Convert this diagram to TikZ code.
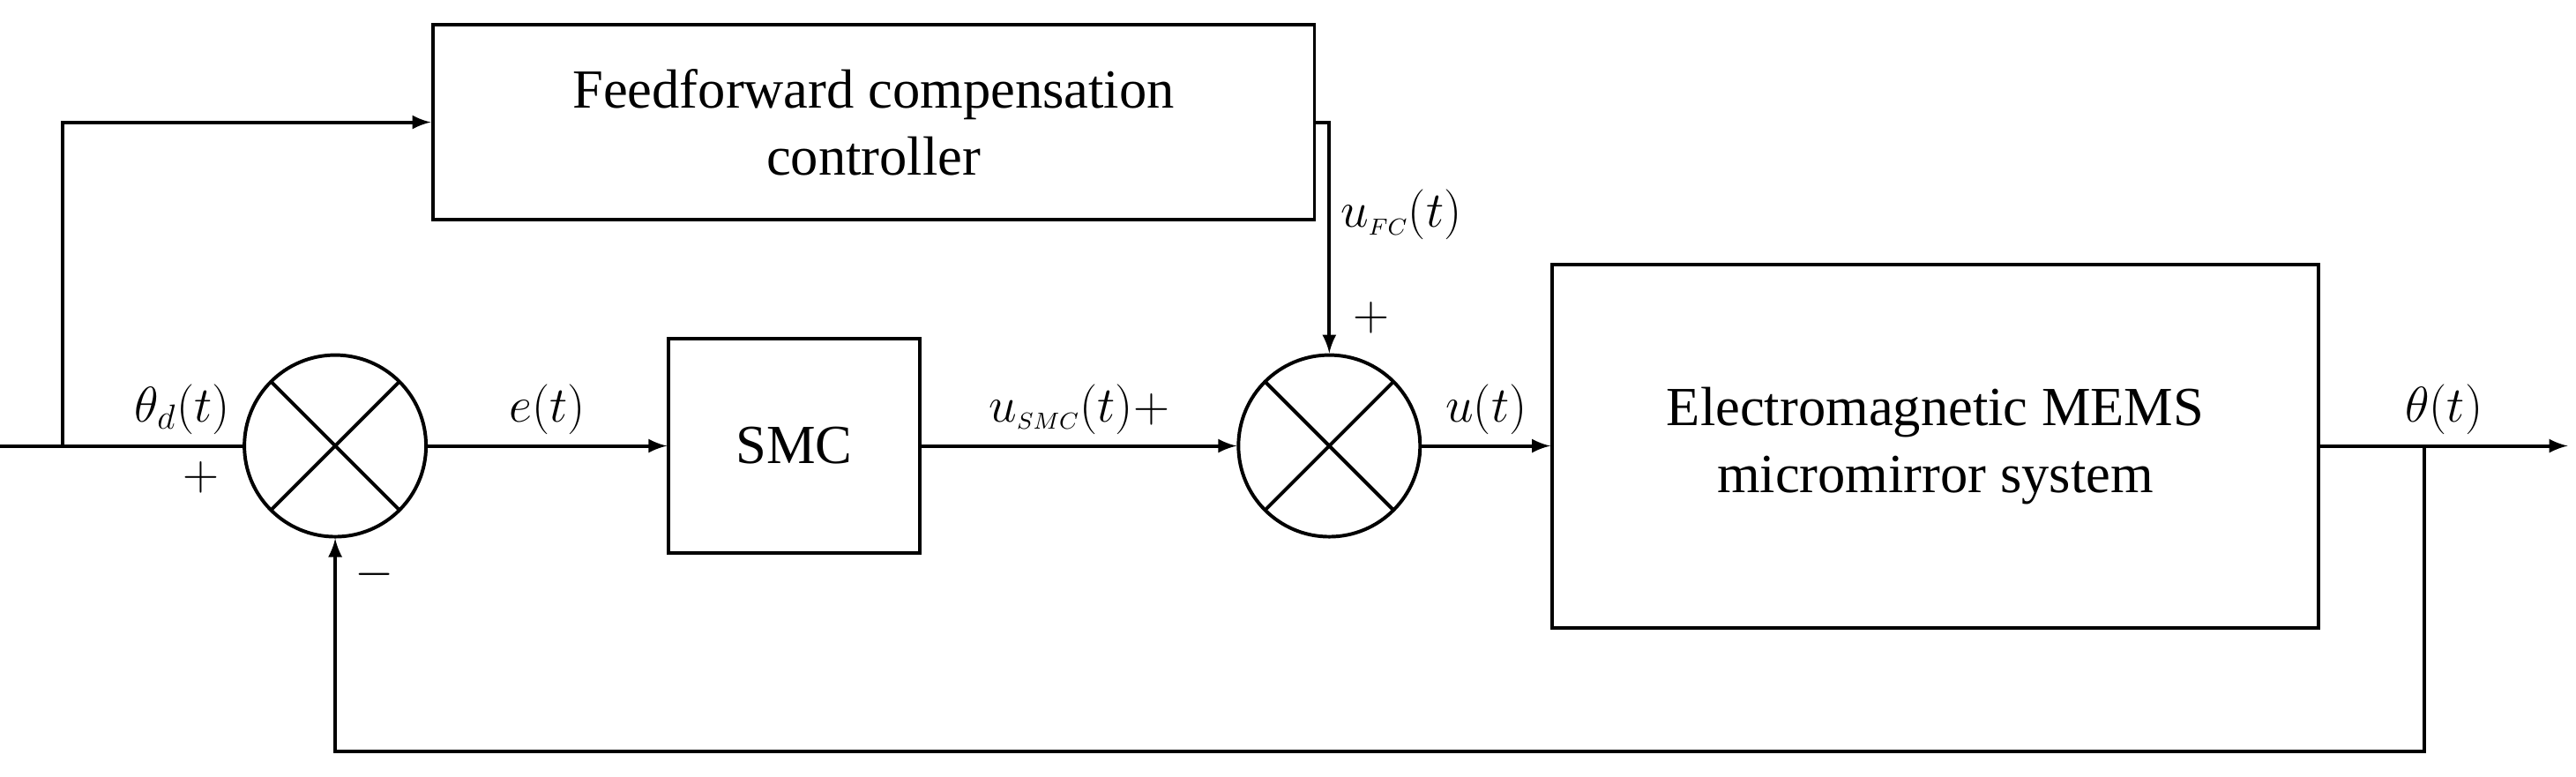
\documentclass[tikz,border=0pt]{standalone}
\usepackage{fontspec}
\setmainfont{Liberation Serif}
\usetikzlibrary{positioning}
\begin{document}
\begin{tikzpicture}[font = {\fontsize{19pt}{23}\selectfont}, line width = 1.2pt, >=latex]
\tikzset{blk/.style = {draw, align = center},
  sumj/.style = {draw, circle, minimum size = 2.2cm, inner sep = 0pt,
    path picture = {\draw (path picture bounding box.north west) -- (path picture bounding box.south east)
      (path picture bounding box.north east) -- (path picture bounding box.south west);}},
  lbl/.style = {font = {\fontsize{17pt}{20}\selectfont}}}
\useasboundingbox (0,0) rectangle (31.2,9.4);

\node[blk, minimum width = 10.68cm, minimum height = 2.36cm] (FF) at (10.58, 7.92) {Feedforward compensation\\controller};
\node[sumj] (S1) at (4.06, 4) {};
\node[blk, minimum width = 3.04cm, minimum height = 2.6cm] (SMC) at (9.62, 4) {SMC};
\node[sumj] (S2) at (16.1, 4) {};
\node[blk, minimum width = 9.28cm, minimum height = 4.4cm] (SYS) at (23.44, 4) {Electromagnetic MEMS\\micromirror system};

\coordinate (IN) at (0, 4);
\coordinate (BR) at (0.76, 4);
\coordinate (TAP) at (29.36, 4);
\coordinate (OUT) at (31.1, 4);
\coordinate (FB) at (29.36, 0.3);

\draw (IN) -- node[pos = 0.75, above, lbl] {$\theta_d(t)$} (S1.west);
\draw[->] (BR) |- (FF.west);
\draw[->] (S1.east) -- node[above, lbl] {$e(t)$} (SMC.west);
\draw[->] (SMC.east) -- node[above, lbl] {$u_{\scriptscriptstyle SMC}(t)+$} (S2.west);
\draw[->] (FF.east) -| node[pos = 0.7, right, lbl] {$u_{\scriptscriptstyle FC}(t)$} (S2.north);
\draw[->] (S2.east) -- node[above, lbl] {$u(t)$} (SYS.west);
\draw[->] (SYS.east) -- node[above, lbl] {$\theta(t)$} (OUT);
\draw[->] (TAP) -- (FB) -| (S1.south);

\node[lbl, below left = 0.05cm and 0.15cm of S1.west] (P1) {$+$};
\node[lbl, below right = 0.1cm and 0.1cm of S1.south] (M1) {$-$};
\node[lbl, above right = 0.1cm and 0.15cm of S2.north] (P2) {$+$};
\end{tikzpicture}
\end{document}
